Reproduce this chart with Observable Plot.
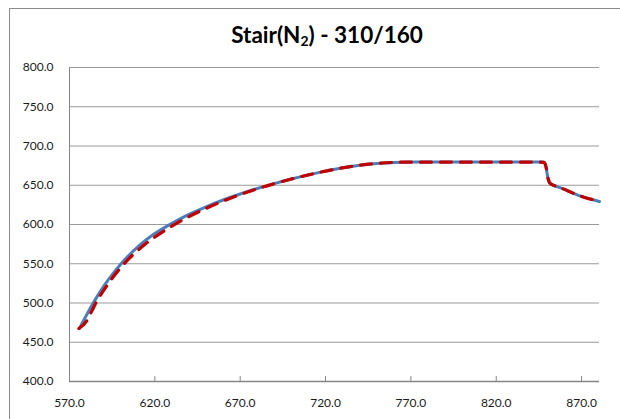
<!DOCTYPE html>
<html>
<head>
<meta charset="utf-8">
<script src="https://cdn.jsdelivr.net/npm/d3@7"></script>
<script src="https://cdn.jsdelivr.net/npm/@observablehq/plot@0.6"></script>
<style>
  html, body { margin: 0; padding: 0; background: #fff; }
  #wrap { position: relative; width: 620px; height: 419px; overflow: hidden; background: #fff; }
  #frame { position: absolute; left: 9px; top: 8px; width: 700px; height: 500px; border: 1px solid #8c8c8c; box-sizing: border-box; }
  #title { position: absolute; left: 0; width: 654px; top: 22px; text-align: center; font-family: Lato, sans-serif; font-weight: bold; font-size: 22.5px; color: #000; line-height: 26px; }
  #title sub { font-size: 0.62em; vertical-align: -0.25em; line-height: 0; }
  #chart { position: absolute; left: 0; top: 0; }
</style>
</head>
<body>
<div id="wrap">
  <div id="frame"></div>
  <div id="title">Stair(N<sub>2</sub>) - 310/160</div>
  <div id="chart"></div>
</div>
<script>
const xTicks = [570, 620, 670, 720, 770, 820, 870];
const yTicks = [400, 450, 500, 550, 600, 650, 700, 750, 800];
const gridTicks = [450, 500, 550, 600, 650, 700, 750, 800];

const blueX = [575.9, 580, 585, 590, 595, 600, 605, 610, 615, 620, 630, 640, 650, 660, 670, 680, 690, 700, 710, 720, 730, 740, 750, 760, 770, 790, 810, 830, 845, 848, 849.3, 850.2, 851.3, 853, 856, 861.6, 866, 871.3, 876, 880.5];
const blueY = [467.9, 484.7, 504, 521.2, 536.2, 549.5, 561.2, 571.5, 580.5, 588.4, 601.5, 612.8, 622.6, 631.2, 638.9, 645.8, 652.1, 657.9, 663.2, 668, 672.2, 675.5, 677.8, 679.1, 679.5, 679.5, 679.5, 679.5, 679.5, 679.2, 672, 660, 653, 650.5, 648, 643.3, 639, 634.8, 631.8, 629.3];

const redX = [575.5, 580, 583, 586, 590, 595, 600, 605, 610, 615, 620, 630, 640, 650, 660, 670, 680, 690, 700, 710, 720, 730, 740, 750, 760, 770, 790, 810, 830, 845, 848, 849.3, 850.2, 851.3, 853, 856, 861.6, 866, 871.3, 876, 880.5];
const redY = [467.5, 477, 489.5, 502.5, 516, 531.5, 545, 556.8, 567, 576, 584, 598, 610, 620.5, 629.8, 638.1, 645.5, 652, 657.9, 663.2, 668, 672.2, 675.5, 677.8, 679.1, 679.5, 679.5, 679.5, 679.5, 679.5, 679.2, 672, 660, 653, 650.5, 648, 643.3, 639, 634.8, 632, 630.3];

const blue = blueX.map((x, i) => ({x, y: blueY[i]}));
const red = redX.map((x, i) => ({x, y: redY[i]}));
const fmt = d => d.toFixed(1);

const chart = Plot.plot({
  width: 620,
  height: 419,
  marginLeft: 69,
  marginRight: 21,
  marginTop: 67,
  marginBottom: 38,
  x: {domain: [570, 880.5]},
  y: {domain: [400, 800]},
  style: {fontFamily: "Lato, sans-serif", fontSize: "12px", color: "#1a1a1a", background: "transparent", overflow: "visible"},
  marks: [
    Plot.ruleY(gridTicks, {stroke: "#9a9a9a", strokeWidth: 1}),
    Plot.ruleX([570], {stroke: "#868686", strokeWidth: 1}),
    Plot.ruleX(xTicks, {y1: 400, y2: 406.4, stroke: "#868686", strokeWidth: 1}),
    Plot.ruleY([400], {stroke: "#868686", strokeWidth: 1.5}),
    Plot.axisY({ticks: yTicks, tickSize: 0, tickPadding: 16, tickFormat: fmt, label: null}),
    Plot.axisX({ticks: xTicks, tickSize: 0, tickPadding: 17, tickFormat: fmt, label: null}),
    Plot.line(blue, {x: "x", y: "y", stroke: "#4A7EBB", strokeWidth: 3, curve: "monotone-x"}),
    Plot.line(red, {x: "x", y: "y", stroke: "#C00000", strokeWidth: 3.2, strokeDasharray: "11,9", curve: "monotone-x"})
  ]
});
document.getElementById("chart").appendChild(chart);
</script>
</body>
</html>
